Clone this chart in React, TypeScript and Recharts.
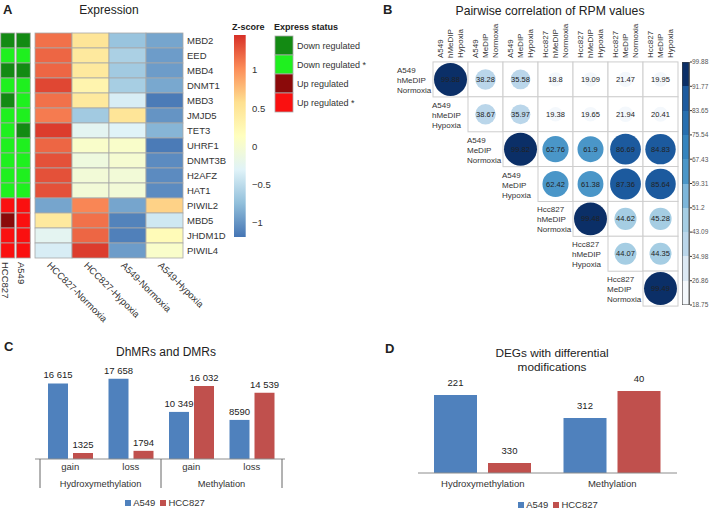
import React from 'react';
import {
  ScatterChart,
  Scatter,
  XAxis,
  YAxis,
  BarChart,
  Bar,
  LabelList,
  Legend,
  ComposedChart,
} from 'recharts';

const FONT = '"Liberation Sans", Arial, Helvetica, sans-serif';

// ---------- panel A: expression heatmap ----------
const genes = ['MBD2', 'EED', 'MBD4', 'DNMT1', 'MBD3', 'JMJD5', 'TET3', 'UHRF1', 'DNMT3B', 'H2AFZ', 'HAT1', 'PIWIL2', 'MBD5', 'JHDM1D', 'PIWIL4'];
const conditions = ['HCC827-Normoxia', 'HCC827-Hypoxia', 'A549-Normoxia', 'A549-Hypoxia'];
const hccNormoxiaZ = [1.15, 1.2, 1.2, 1.35, 1.15, 1.1, 1.4, 1.2, 1.3, 1.3, 1.3, -0.9, 0.45, -0.25, -0.35];
const hccHypoxiaZ = [0.5, 0.45, 0.45, 0.3, 0.45, -0.65, -0.25, 0.05, -0.1, -0.05, -0.05, 1.05, 1.15, 1.2, 1.4];
const a549NormoxiaZ = [-0.7, -0.6, -0.65, -0.62, -0.35, 0.5, -0.3, 0.05, 0, -0.05, -0.05, -0.9, -1.1, -1.12, -0.95];
const a549HypoxiaZ = [-0.9, -0.95, -0.95, -0.88, -1.15, -1.0, -0.8, -1.15, -1.05, -1.05, -1.05, 0.65, -0.4, 0.2, 0.05];

const cellLines = ['HCC827', 'A549'];
const statusLabels = ['Down regulated', 'Down regulated *', 'Up regulated', 'Up regulated *'];
const statusColors = ['#138a13', '#1ff01f', '#8b0a0a', '#fa1010'];
const hccStatus = [0, 1, 0, 1, 0, 1, 1, 1, 1, 1, 1, 3, 2, 3, 3];
const a549Status = [0, 1, 0, 1, 1, 1, 0, 1, 1, 1, 1, 3, 3, 3, 3];

const zTicks = [-1, -0.5, 0, 0.5, 1];
const Z_MIN = -1.183;
const Z_MAX = 1.457;
const heatPalette = ['#4575B4', '#91BFDB', '#E0F3F8', '#FFFFBF', '#FEE090', '#FC8D59', '#D73027'];

// ---------- panel B: pairwise correlation ----------
const sampleNames = [
  ['A549', 'hMeDIP', 'Normoxia'],
  ['A549', 'hMeDIP', 'Hypoxia'],
  ['A549', 'MeDIP', 'Normoxia'],
  ['A549', 'MeDIP', 'Hypoxia'],
  ['Hcc827', 'hMeDIP', 'Normoxia'],
  ['Hcc827', 'hMeDIP', 'Hypoxia'],
  ['Hcc827', 'MeDIP', 'Normoxia'],
  ['Hcc827', 'MeDIP', 'Hypoxia'],
];
const corrRows = [
  [99.88, 38.28, 35.58, 18.8, 19.09, 21.47, 19.95],
  [38.67, 35.97, 19.38, 19.65, 21.94, 20.41],
  [99.82, 62.76, 61.9, 86.69, 84.83],
  [62.42, 61.38, 87.36, 85.64],
  [99.48, 44.62, 45.28],
  [44.07, 44.35],
  [99.49],
];
const corrBreaks = [18.75, 26.86, 34.98, 43.09, 51.2, 59.31, 67.43, 75.54, 83.65, 91.77, 99.88];
const corrColors = ['#f4f8fc', '#dce9f4', '#bad6ea', '#a5cde3', '#7db6da', '#4a96c8', '#3584be', '#276fb0', '#1c5a9e', '#0b2f67'];

// ---------- panel C: DhMRs and DMRs ----------
const dmrSub = ['gain', 'loss', 'gain', 'loss'];
const dmrGroup = ['Hydroxymethylation', 'Hydroxymethylation', 'Methylation', 'Methylation'];
const dmrA549 = [16615, 17658, 10349, 8590];
const dmrHCC827 = [1325, 1794, 16032, 14539];

// ---------- panel D: DEGs with differential modifications ----------
const degCategories = ['Hydroxymethylation', 'Methylation'];
const degA549Height = [78, 55];
const degHCC827Height = [10, 82];
const degA549Label = ['221', '312'];
const degHCC827Label = ['330', '40'];

const BLUE = '#4f81bd';
const RED = '#c0504d';

// ---------- helpers ----------
function hexToRgb(h: string) {
  const n = parseInt(h.slice(1), 16);
  return [(n >> 16) & 255, (n >> 8) & 255, n & 255];
}

function zColor(z: number) {
  const t = Math.min(1, Math.max(0, (z - Z_MIN) / (Z_MAX - Z_MIN)));
  const p = t * (heatPalette.length - 1);
  const i = Math.min(Math.floor(p), heatPalette.length - 2);
  const f = p - i;
  const a = hexToRgb(heatPalette[i]);
  const b = hexToRgb(heatPalette[i + 1]);
  return `rgb(${a.map((v, k) => Math.round(v + (b[k] - v) * f)).join(',')})`;
}

function corrColor(v: number) {
  let k = 0;
  while (k < corrColors.length - 1 && v >= corrBreaks[k + 1]) k++;
  return corrColors[k];
}

// "16 615" style, kept on one line
function fmtThousands(v: number) {
  if (v < 10000) return String(v);
  return `${Math.floor(v / 1000)}\u00a0${String(v % 1000).padStart(3, '0')}`;
}

const minus = (v: number) => (v < 0 ? '\u2212' + Math.abs(v) : String(v));

// ---------- data tables ----------
const heatColumns = [hccNormoxiaZ, hccHypoxiaZ, a549NormoxiaZ, a549HypoxiaZ];
const heatData = heatColumns.flatMap((col, ci) => col.map((z, gi) => ({ x: ci, y: gi, z })));
const statusData = [hccStatus, a549Status].flatMap((col, ci) => col.map((s, gi) => ({ x: ci, y: gi, s })));
const zBarData = [{ name: 'z', range: [Z_MIN, Z_MAX] }];
const corrData = corrRows.flatMap((row, ri) => row.map((v, k) => ({ row: ri, col: ri + k, v })));
const corrBarData = [{ name: 'corr', range: [corrBreaks[0], corrBreaks[corrBreaks.length - 1]] }];
const dmrData = dmrSub.map((sub, i) => ({ sub, group: dmrGroup[i], a549: dmrA549[i], hcc: dmrHCC827[i] }));
const degData = degCategories.map((cat, i) => ({
  cat,
  a549: degA549Height[i],
  hcc: degHCC827Height[i],
  a549Label: degA549Label[i],
  hccLabel: degHCC827Label[i],
}));

// plot geometry
const HEAT_W = 148;
const HEAT_H = 225;
const STATUS_W = 31;
const CORR_CELL = 35;

function HeatCell(props: any) {
  const { cx, cy, payload } = props;
  const w = HEAT_W / conditions.length;
  const h = HEAT_H / genes.length;
  return <rect x={cx - w / 2} y={cy - h / 2} width={w} height={h} fill={zColor(payload.z)} stroke="#a8a8a8" strokeWidth={0.8} />;
}

function StatusCell(props: any) {
  const { cx, cy, payload } = props;
  const w = STATUS_W / cellLines.length - 1.5;
  const h = HEAT_H / genes.length;
  return <rect x={cx - w / 2} y={cy - h / 2} width={w} height={h} fill={statusColors[payload.s]} stroke="#a8a8a8" strokeWidth={0.8} />;
}

function CorrCell(props: any) {
  const { cx, cy, payload } = props;
  const s = CORR_CELL;
  const r = (s / 2 - 1) * Math.sqrt(payload.v / corrBreaks[corrBreaks.length - 1]);
  const name = sampleNames[payload.row];
  return (
    <g>
      <rect x={cx - s / 2} y={cy - s / 2} width={s} height={s} fill="#fff" stroke="#cdcdcd" strokeWidth={1} />
      <circle cx={cx} cy={cy} r={r} fill={corrColor(payload.v)} />
      <text x={cx} y={cy} dy="0.35em" textAnchor="middle" fontSize={7.5} fill="#222">
        {payload.v}
      </text>
      {payload.col === payload.row &&
        name.map((line, k) => (
          <text key={k} x={cx - s / 2 - s - 1} y={cy - s / 2 + 11 + k * 10} fontSize={8} fill="#333">
            {line}
          </text>
        ))}
    </g>
  );
}

function LegendRow({ payload }: any) {
  return (
    <div style={{ display: 'flex', justifyContent: 'center', gap: 5, fontSize: 9.5, color: '#333', fontFamily: FONT }}>
      {(payload || []).map((p: any) => (
        <span key={p.value} style={{ display: 'flex', alignItems: 'center' }}>
          <span style={{ width: 6, height: 6, background: p.color, marginRight: 2, display: 'inline-block' }} />
          {p.value}
        </span>
      ))}
    </div>
  );
}

const abs = (left: number, top: number): React.CSSProperties => ({ position: 'absolute', left, top });

export default function App() {
  const zGradStops = heatPalette.map((c, i) => ({ offset: i / (heatPalette.length - 1), color: c }));
  // stepped gradient: one flat band per correlation bin, bottom to top
  const span = corrBreaks[corrBreaks.length - 1] - corrBreaks[0];
  const corrGradStops = corrColors.flatMap((c, i) => [
    { offset: (corrBreaks[i] - corrBreaks[0]) / span, color: c },
    { offset: (corrBreaks[i + 1] - corrBreaks[0]) / span, color: c },
  ]);

  return (
    <div style={{ position: 'absolute', left: 0, top: 0, width: 709, height: 512, background: '#fff', fontFamily: FONT, overflow: 'hidden' }}>
      {/* titles and the status legend */}
      <svg width={709} height={512} style={abs(0, 0)}>
        <defs>
          <linearGradient id="zgrad" x1="0" y1="1" x2="0" y2="0">
            {zGradStops.map((s) => (
              <stop key={s.offset} offset={s.offset} stopColor={s.color} />
            ))}
          </linearGradient>
          <linearGradient id="corrgrad" x1="0" y1="1" x2="0" y2="0">
            {corrGradStops.map((s, i) => (
              <stop key={i} offset={s.offset} stopColor={s.color} />
            ))}
          </linearGradient>
        </defs>
        <g fontFamily={FONT} fill="#222">
          <text x={3} y={14} fontSize={13} fontWeight="bold">A</text>
          <text x={109} y={14} fontSize={12} textAnchor="middle">Expression</text>
          <text x={383} y={14} fontSize={13} fontWeight="bold">B</text>
          <text x={550} y={15} fontSize={12.2} textAnchor="middle">Pairwise correlation of RPM values</text>
          <text x={4} y={351} fontSize={13} fontWeight="bold">C</text>
          <text x={166} y={356} fontSize={12} textAnchor="middle">DhMRs and DMRs</text>
          <text x={385} y={353} fontSize={13} fontWeight="bold">D</text>
          <text x={552} y={357} fontSize={11.8} textAnchor="middle">DEGs with differential</text>
          <text x={552} y={371} fontSize={11.8} textAnchor="middle">modifications</text>

          <text x={232} y={30} fontSize={9} fontWeight="bold">Z-score</text>
          <text x={274} y={30} fontSize={9} fontWeight="bold">Express status</text>
          {statusLabels.map((lab, i) => (
            <g key={lab}>
              <rect x={275} y={36 + i * 19} width={18} height={19} fill={statusColors[i]} stroke="#aaa" strokeWidth={0.8} />
              <text x={297} y={36 + i * 19 + 9.5} dy="0.35em" fontSize={9} fill="#333">{lab}</text>
            </g>
          ))}
        </g>
      </svg>

      {/* A: status columns */}
      <div style={abs(0, 0)}>
        <ScatterChart width={40} height={330} margin={{ top: 33, right: 9, bottom: 0, left: 0 }}>
          <XAxis
            type="number"
            dataKey="x"
            domain={[-0.5, 1.5]}
            ticks={[0, 1]}
            interval={0}
            height={72}
            axisLine={false}
            tickLine={false}
            tickSize={0}
            tickMargin={0}
            tick={(p: any) => (
              <text transform={`translate(${p.x - 5.5},${p.y + 4}) rotate(90)`} fontSize={9.5} fill="#333">
                {cellLines[p.payload.value]}
              </text>
            )}
          />
          <YAxis type="number" dataKey="y" domain={[-0.5, 14.5]} reversed hide width={0} />
          <Scatter data={statusData} shape={StatusCell} isAnimationActive={false} />
        </ScatterChart>
      </div>

      {/* A: heatmap */}
      <div style={abs(0, 0)}>
        <ScatterChart width={250} height={330} margin={{ top: 33, right: 0, bottom: 0, left: 35 }}>
          <XAxis
            type="number"
            dataKey="x"
            domain={[-0.5, 3.5]}
            ticks={[0, 1, 2, 3]}
            interval={0}
            height={72}
            axisLine={false}
            tickLine={false}
            tickSize={0}
            tickMargin={0}
            tick={(p: any) => (
              <text transform={`translate(${p.x - 7},${p.y + 8}) rotate(45)`} fontSize={9.5} fill="#333">
                {conditions[p.payload.value]}
              </text>
            )}
          />
          <YAxis
            type="number"
            dataKey="y"
            domain={[-0.5, 14.5]}
            reversed
            ticks={genes.map((_, i) => i)}
            interval={0}
            orientation="right"
            width={67}
            axisLine={false}
            tickLine={false}
            tickSize={0}
            tickMargin={4}
            tick={(p: any) => (
              <text x={p.x} y={p.y} dy="0.35em" fontSize={9.5} fill="#333">
                {genes[p.payload.value]}
              </text>
            )}
          />
          <Scatter data={heatData} shape={HeatCell} isAnimationActive={false} />
        </ScatterChart>
      </div>

      {/* A: z-score colour bar */}
      <div style={abs(233, 0)}>
        <ComposedChart width={40} height={300} data={zBarData} margin={{ top: 35, right: 0, bottom: 63, left: 0 }}>
          <XAxis dataKey="name" hide height={0} />
          <YAxis
            type="number"
            domain={[Z_MIN, Z_MAX]}
            allowDataOverflow
            ticks={zTicks}
            interval={0}
            orientation="right"
            width={27}
            axisLine={false}
            tickLine={false}
            tickSize={0}
            tickMargin={6}
            tickFormatter={minus}
            tick={{ fontSize: 9.5, fill: '#333' }}
          />
          <Bar dataKey="range" fill="url(#zgrad)" barSize={13} isAnimationActive={false} />
        </ComposedChart>
      </div>

      {/* B: correlation matrix */}
      <div style={abs(360, 0)}>
        <ScatterChart width={320} height={320} margin={{ top: 22, right: 2, bottom: 14, left: 73 }}>
          <XAxis
            type="number"
            dataKey="col"
            domain={[-0.5, 6.5]}
            ticks={[0, 1, 2, 3, 4, 5, 6]}
            interval={0}
            orientation="top"
            height={40}
            axisLine={false}
            tickLine={false}
            tickSize={0}
            tickMargin={4}
            tick={(p: any) => (
              <g>
                {sampleNames[p.payload.value + 1].map((line, k) => (
                  <text key={k} transform={`translate(${p.x - 7.5 + k * 10},${p.y}) rotate(-90)`} fontSize={8} fill="#333">
                    {line}
                  </text>
                ))}
              </g>
            )}
          />
          <YAxis type="number" dataKey="row" domain={[-0.5, 6.5]} reversed hide width={0} />
          <Scatter data={corrData} shape={CorrCell} isAnimationActive={false} />
        </ScatterChart>
      </div>

      {/* B: correlation colour bar */}
      <div style={abs(682, 0)}>
        <ComposedChart width={27} height={320} data={corrBarData} margin={{ top: 62, right: 0, bottom: 15, left: 0 }}>
          <XAxis dataKey="name" hide height={0} />
          <YAxis
            type="number"
            domain={[corrBreaks[0], corrBreaks[corrBreaks.length - 1]]}
            allowDataOverflow
            ticks={corrBreaks}
            interval={0}
            orientation="right"
            width={19}
            axisLine={false}
            tickLine={{ stroke: '#333' }}
            tickSize={2}
            tickMargin={0}
            tick={{ fontSize: 6.5, fill: '#555' }}
          />
          <Bar dataKey="range" fill="url(#corrgrad)" stroke="#444" strokeWidth={1.2} barSize={8} isAnimationActive={false} />
        </ComposedChart>
      </div>

      {/* C: DhMRs and DMRs */}
      <div style={abs(0, 330)}>
        <BarChart width={360} height={182} data={dmrData} margin={{ top: 38, right: 75, bottom: 19, left: 35 }} barSize={20} barGap={5}>
          <XAxis
            dataKey="sub"
            height={16}
            padding={{ left: 5, right: 3 }}
            axisLine={{ stroke: '#8c8c8c' }}
            tickLine={false}
            tickSize={0}
            tickMargin={0}
            interval={0}
            tick={(p: any) => (
              <text x={p.x} y={p.y + 11} textAnchor="middle" fontSize={9.5} fill="#333">
                {p.payload.value}
              </text>
            )}
          />
          <XAxis
            xAxisId="grp"
            dataKey="group"
            allowDuplicatedCategory={false}
            height={18}
            padding={{ left: 5, right: 3 }}
            axisLine={false}
            tickLine={false}
            tickSize={0}
            tickMargin={0}
            interval={0}
            tick={(p: any) => {
              const half = typeof p.payload.offset === 'number' && p.payload.offset > 0 ? p.payload.offset : 60.5;
              const groups = Array.from(new Set(dmrGroup));
              return (
                <g>
                  <line x1={p.x - half} x2={p.x - half} y1={p.y - 16} y2={p.y + 13} stroke="#666" strokeWidth={1} />
                  {p.index === groups.length - 1 && (
                    <line x1={p.x + half} x2={p.x + half} y1={p.y - 16} y2={p.y + 13} stroke="#666" strokeWidth={1} />
                  )}
                  <text x={p.x} y={p.y + 11.5} textAnchor="middle" fontSize={9.3} fill="#333">
                    {p.payload.value}
                  </text>
                </g>
              );
            }}
          />
          <YAxis type="number" domain={[0, 20000]} hide width={0} />
          <Legend verticalAlign="middle" align="center" wrapperStyle={{ top: 167, left: 0, width: 330 }} content={LegendRow} />
          <Bar dataKey="a549" name="A549" fill={BLUE} isAnimationActive={false}>
            <LabelList dataKey="a549" position="top" formatter={fmtThousands} fontSize={9.5} fill="#222" />
          </Bar>
          <Bar dataKey="hcc" name="HCC827" fill={RED} isAnimationActive={false}>
            <LabelList dataKey="hcc" position="top" formatter={fmtThousands} fontSize={9.5} fill="#222" />
          </Bar>
        </BarChart>
      </div>

      {/* D: DEGs */}
      <div style={abs(360, 330)}>
        <BarChart width={349} height={182} data={degData} margin={{ top: 53, right: 32, bottom: 21, left: 58 }} barSize={43} barGap={11}>
          <XAxis
            dataKey="cat"
            height={18}
            axisLine={{ stroke: '#8c8c8c' }}
            tickLine={false}
            tickSize={0}
            tickMargin={0}
            interval={0}
            tick={(p: any) => (
              <text x={p.x} y={p.y + 14} textAnchor="middle" fontSize={9.5} fill="#333">
                {p.payload.value}
              </text>
            )}
          />
          <YAxis type="number" domain={[0, 90]} hide width={0} />
          <Legend verticalAlign="middle" align="center" wrapperStyle={{ top: 169, left: 100, width: 196 }} content={LegendRow} />
          <Bar dataKey="a549" name="A549" fill={BLUE} isAnimationActive={false}>
            <LabelList dataKey="a549Label" position="top" offset={9} fontSize={9.5} fill="#222" />
          </Bar>
          <Bar dataKey="hcc" name="HCC827" fill={RED} isAnimationActive={false}>
            <LabelList dataKey="hccLabel" position="top" offset={9} fontSize={9.5} fill="#222" />
          </Bar>
        </BarChart>
      </div>
    </div>
  );
}
